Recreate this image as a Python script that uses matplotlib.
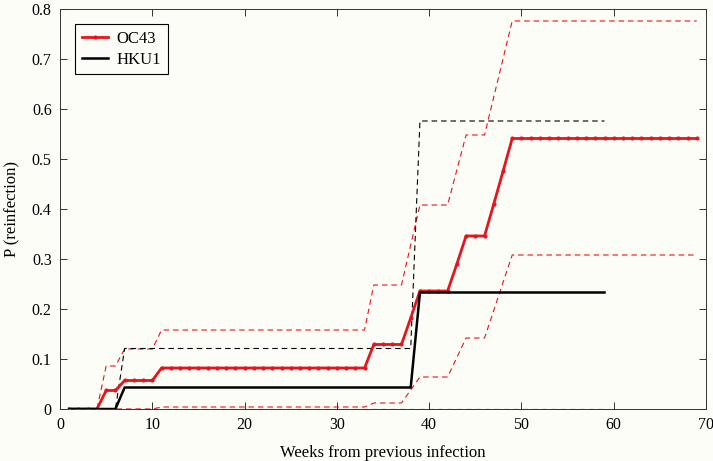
import matplotlib.pyplot as plt

# weekly estimates
weeks_oc43 = list(range(1, 70))
oc43 = ([0.0] * 4 + [0.037] * 2 + [0.057] * 4 + [0.082] * 23 + [0.129] * 4
        + [0.182] + [0.236] * 4 + [0.290] + [0.346] * 3 + [0.410, 0.475]
        + [0.541] * 21)
oc43_upper = ([0.0] * 4 + [0.086] * 2 + [0.120] * 4 + [0.158] * 23 + [0.248] * 4
              + [0.328] + [0.408] * 4 + [0.478] + [0.548] * 3 + [0.624, 0.700]
              + [0.776] * 21)
oc43_lower = ([0.0] * 10 + [0.004] * 23 + [0.012] * 4 + [0.038] + [0.064] * 4
              + [0.103] + [0.142] * 3 + [0.197, 0.253] + [0.308] * 21)

weeks_hku1 = list(range(1, 60))
hku1 = [0.0] * 6 + [0.043] * 32 + [0.233] * 21
hku1_upper = [0.0] * 6 + [0.121] * 32 + [0.576] * 21
hku1_lower = [0.0] * 59

x_ticks = [0, 10, 20, 30, 40, 50, 60, 70]
y_ticks = [0, 0.1, 0.2, 0.3, 0.4, 0.5, 0.6, 0.7, 0.8]
y_tick_labels = ["0", "0.1", "0.2", "0.3", "0.4", "0.5", "0.6", "0.7", "0.8"]

bg = "#fdfdf7"
red = "#e8141c"

plt.rcParams["font.family"] = ["Liberation Serif", "DejaVu Serif"]

fig = plt.figure(figsize=(7.13, 4.61), dpi=100, facecolor=bg)
ax = fig.add_axes([0.0842, 0.1128, 0.9060, 0.8677], facecolor=bg)

dash = (5, 3.5)
ax.plot(weeks_oc43, oc43_upper, color=red, lw=0.8, dashes=dash, zorder=2)
ax.plot(weeks_oc43, oc43_lower, color=red, lw=0.8, dashes=dash, zorder=2)
ax.plot(weeks_hku1, hku1_upper, color="black", lw=0.8, dashes=dash, zorder=2)
ax.plot(weeks_hku1, hku1_lower, color="black", lw=0.8, dashes=dash, zorder=2)
ax.plot(weeks_oc43, oc43, color=red, lw=2.0, marker=".", markersize=4,
        label="OC43", zorder=3)
ax.plot(weeks_hku1, hku1, color="black", lw=1.8, label="HKU1", zorder=4)

ax.set_xlim(0, 70)
ax.set_ylim(0, 0.8)
ax.set_xticks(x_ticks)
ax.set_yticks(y_ticks)
ax.set_yticklabels(y_tick_labels)
ax.tick_params(direction="in", top=True, right=True, length=5, width=0.7,
               color="#333333", labelsize=11.5, pad=6)
for s in ax.spines.values():
    s.set_color("#333333")
    s.set_linewidth(0.7)

ax.set_xlabel("Weeks from previous infection", fontsize=12, labelpad=8.5)
ax.set_ylabel("P (reinfection)", fontsize=12, labelpad=8.5)

leg = ax.legend(loc="upper left", fontsize=12, fancybox=False, framealpha=1,
                edgecolor="black", facecolor=bg, handlelength=1.6,
                borderaxespad=0.9, handletextpad=0.5, labelspacing=0.3,
                borderpad=0.4)
leg.get_frame().set_linewidth(0.8)

fig.savefig("out.png", dpi=100, facecolor=bg)
